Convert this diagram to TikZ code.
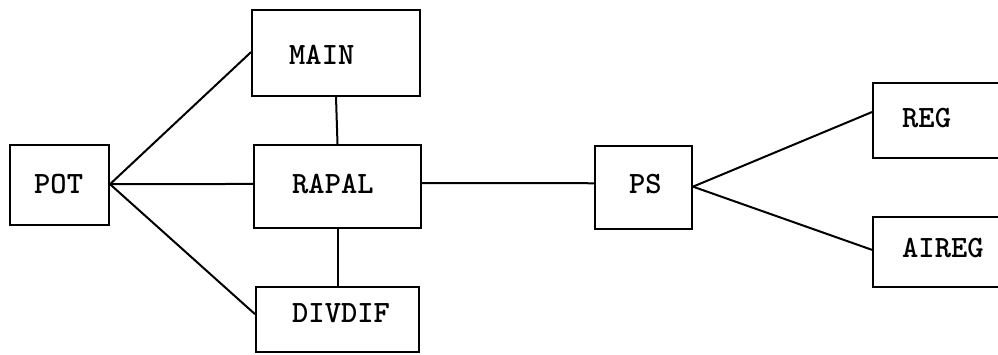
\documentclass[tikz,border=0pt]{standalone}
\usetikzlibrary{calc}
\begin{document}
\begin{tikzpicture}[x=1pt,y=-1pt,
  box/.style={draw,line width=2pt,rectangle,inner sep=0pt},
  lbl/.style={anchor=west,inner sep=0pt,font=\ttfamily\bfseries\fontsize{31}{33}\selectfont},
  conn/.style={line width=2pt}]
\useasboundingbox (0,0) rectangle (998,354);
\clip (0,0) rectangle (998,354);
% boxes
\node[box,minimum width=99pt,minimum height=80pt] (pot) at (59.5,185) {};
\node[box,minimum width=168pt,minimum height=86pt] (main) at (336,53) {};
\node[box,minimum width=167pt,minimum height=83pt] (rapal) at (337.5,186.5) {};
\node[box,minimum width=163pt,minimum height=65pt] (divdif) at (337.5,319.5) {};
\node[box,minimum width=97pt,minimum height=83pt] (ps) at (643.5,187.5) {};
\node[box,minimum width=140pt,minimum height=75pt] (reg) at (943,120.5) {};
\node[box,minimum width=140pt,minimum height=70pt] (aireg) at (943,252) {};
% labels
\node[lbl] (tpot) at (34,184) {POT};
\node[lbl] (tmain) at (289,55) {MAIN};
\node[lbl] (trapal) at (292,184) {RAPAL};
\node[lbl] (tdivdif) at (292,313) {DIVDIF};
\node[lbl] (tps) at (629,184) {PS};
\node[lbl] (treg) at (902,118) {REG};
\node[lbl] (taireg) at (902,248) {AIREG};
% connectors
\coordinate (potout) at ($(pot.north east)!0.49!(pot.south east)$);
\draw[conn] (potout) -- ($(main.north west)!0.49!(main.south west)$);
\draw[conn] (potout) -- ($(rapal.north west)!0.47!(rapal.south west)$);
\draw[conn] (potout) -- ($(divdif.north west)!0.42!(divdif.south west)$);
\draw[conn] (main.south) -- (rapal.north);
\draw[conn] (rapal.south) -- (divdif.north);
\draw[conn] ($(rapal.north east)!0.46!(rapal.south east)$) -- ($(ps.north west)!0.45!(ps.south west)$);
\coordinate (psout) at ($(ps.north east)!0.49!(ps.south east)$);
\draw[conn] (psout) -- ($(reg.north west)!0.39!(reg.south west)$);
\draw[conn] (psout) -- ($(aireg.north west)!0.47!(aireg.south west)$);
\end{tikzpicture}
\end{document}
